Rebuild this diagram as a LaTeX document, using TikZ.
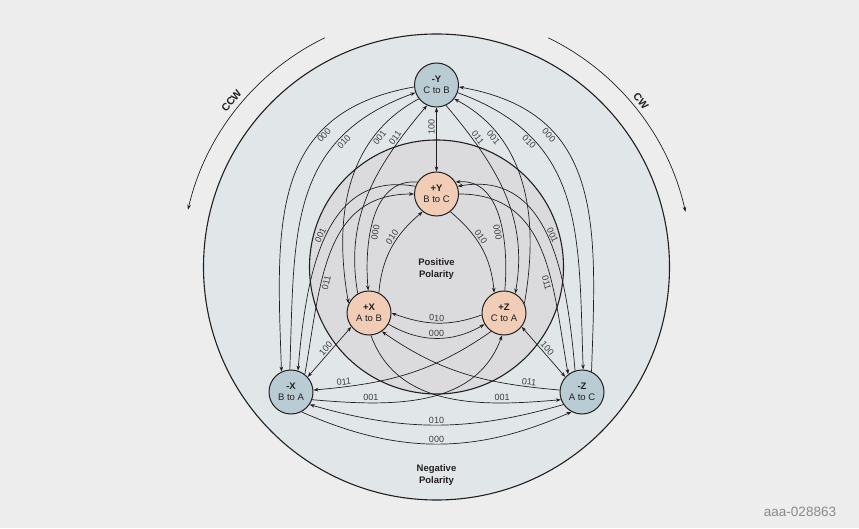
\documentclass[tikz,border=0pt]{standalone}
\usepackage{fontspec}
\setmainfont{Liberation Sans}
\usetikzlibrary{arrows.meta,positioning,calc}

\definecolor{paper}{HTML}{EDEDED}
\definecolor{negring}{HTML}{E1E6E9}
\definecolor{posring}{HTML}{DBDBDD}
\definecolor{negfill}{HTML}{B9CCD4}
\definecolor{posfill}{HTML}{F1CDB8}
\definecolor{ink}{HTML}{231F20}
\definecolor{codegray}{HTML}{3C3C3C}
\definecolor{idgray}{HTML}{8A8A8A}

\tikzset{
    negstate/.style={
        circle,
        draw=ink,
        line width=1pt,
        fill=negfill,
        minimum size=44pt,
        inner sep=0pt,
        align=center,
        font=\fontsize{9.5}{11.5}\selectfont,
    },
    posstate/.style={
        negstate,
        fill=posfill,
    },
    code/.style={
        font=\fontsize{9}{10}\selectfont,
        text=codegray,
        inner sep=1.5pt,
        sloped,
    },
    ring/.style={
        draw=ink,
        line width=1.1pt,
    },
    polarity/.style={
        font=\bfseries\fontsize{9.5}{11.5}\selectfont,
        align=center,
    },
    sense/.style={
        font=\bfseries\fontsize{10.5}{12}\selectfont,
    },
}

\begin{document}
\begin{tikzpicture}[x=1pt,y=1pt,>={Stealth[length=5pt,width=3.6pt]},line width=.7pt,color=ink]
    % canvas and the two polarity discs
    \fill[paper] (0,0) rectangle (859,528);
    \coordinate (hub) at (436.5,261);
    \draw[ring,fill=negring] (hub) circle[radius=233];
    \draw[ring,fill=posring] (hub) circle[radius=127];
    \node[polarity] (neg) at (436.5,53) {Negative\\Polarity};
    \node[polarity] (pos) at (436.5,259) {Positive\\Polarity};

    % sense of rotation
    \draw[->] ($(hub)+(116:255)$) arc[start angle=116,end angle=167,radius=255];
    \draw[->] ($(hub)+(64:255)$) arc[start angle=64,end angle=12.5,radius=255];
    \node[sense,rotate=51] (ccw) at ($(hub)+(141:264)$) {CCW};
    \node[sense,rotate=-51] (cw) at ($(hub)+(39:263)$) {CW};

    % states
    \node[negstate] (nY) at (436.5,443) {\textbf{-Y}\\C to B};
    \node[posstate] (pY) at (436.5,334) {\textbf{+Y}\\B to C};
    \node[posstate] (pX) at (369,215) {\textbf{+X}\\A to B};
    \node[posstate] (pZ) at (504,215) {\textbf{+Z}\\C to A};
    \node[negstate] (nX) at (291,136) {\textbf{-X}\\B to A};
    \node[negstate] (nZ) at (582,136) {\textbf{-Z}\\A to C};

    % negative polarity steps
    \path[->] (nY.185) edge [out=190,in=92,looseness=1.2] node[code,pos=.3,below] {000} (nX.115);
    \path[->] (nX.93) edge [out=88,in=200,looseness=1.15] node[code,pos=.74,below] {010} (nY.200);
    \path[->] (nY.340) edge [out=-20,in=92,looseness=1.15] node[code,pos=.26,below] {010} (nZ.87);
    \path[->] (nZ.65) edge [out=88,in=-10,looseness=1.2] node[code,pos=.7,below] {000} (nY.355);
    \path[->] (nX.298) edge [out=-24,in=204] node[code,above] {000} (nZ.242);
    \path[->] (nZ.214) edge [out=196,in=-16] node[code,above] {010} (nX.326);

    % positive polarity steps
    \path[->] (pY.148) edge [out=175,in=95] node[code,pos=.6,below] {000} (pX.92);
    \path[->] (pX.64) edge [out=85,in=220] node[code,pos=.6,above] {010} (pY.232);
    \path[->] (pY.308) edge [out=-40,in=95] node[code,pos=.4,above] {010} (pZ.116);
    \path[->] (pZ.88) edge [out=85,in=5] node[code,pos=.4,below] {000} (pY.32);
    \path[->] (pZ.185) edge [out=200,in=-20] node[code,above] {010} (pX.0);
    \path[->] (pX.330) edge [out=-30,in=210] node[code,above] {000} (pZ.210);

    % polarity swaps
    \path[<->] (pY.90) edge node[code,pos=.69,above] {100} (nY.270);
    \path[<->] (nX.42) edge node[code,above] {100} (pX.218);
    \path[<->] (pZ.322) edge node[code,above] {100} (nZ.138);

    % steps that swap polarity
    \path[->] (nY.218) edge [out=208,in=100] node[code,pos=.24,below] {001} (pX.155);
    \path[->] (pX.120) edge [out=100,in=230] node[code,pos=.8,above] {011} (nY.245);
    \path[->] (pZ.25) edge [out=80,in=-28] node[code,pos=.76,below] {001} (nY.322);
    \path[->] (nY.295) edge [out=-50,in=80] node[code,pos=.2,above] {011} (pZ.60);
    \path[->] (pY.160) edge [out=170,in=85,looseness=1.1] node[code,pos=.5,above] {001} (nX.72);
    \path[->] (nX.52) edge [out=80,in=180,looseness=1.1] node[code,pos=.36,below] {011} (pY.180);
    \path[->] (nZ.108) edge [out=95,in=10,looseness=1.1] node[code,pos=.5,above] {001} (pY.20);
    \path[->] (pY.0) edge [out=0,in=100,looseness=1.1] node[code,pos=.64,below] {011} (nZ.128);
    \path[->] (pZ.235) edge [out=215,in=5] node[code,pos=.85,above] {011} (nX.5);
    \path[->] (nX.340) edge [out=-5,in=250] node[code,pos=.25,above] {001} (pZ.265);
    \path[->] (nZ.175) edge [out=175,in=-35] node[code,pos=.15,above] {011} (pX.305);
    \path[->] (pX.275) edge [out=-70,in=185] node[code,pos=.75,above] {001} (nZ.200);

    \node[font=\fontsize{13.5}{14}\selectfont,text=idgray] (id) at (800,16) {aaa-028863};
\end{tikzpicture}
\end{document}
